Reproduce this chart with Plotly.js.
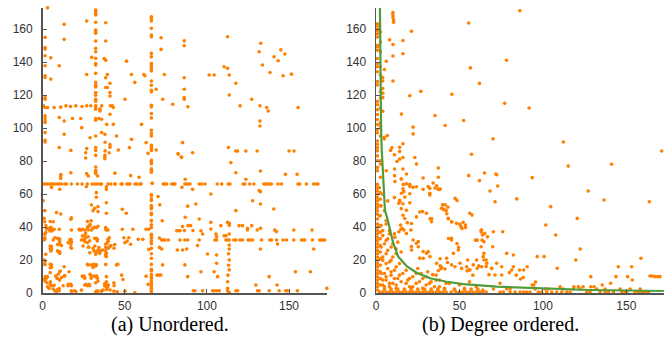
<!DOCTYPE html>
<html><head><meta charset="utf-8">
<script src="https://cdn.plot.ly/plotly-3.0.1.min.js"></script>
<style>html,body{margin:0;padding:0;background:#fff}#chart{width:664px;height:341px}</style>
</head><body><div id="chart"></div>
<script>
// ---------- tick labels & captions ----------
const xTicks = [0, 50, 100, 150];
const yTicks = [0, 20, 40, 60, 80, 100, 120, 140, 160];
const captions = ["(a) Unordered.", "(b) Degree ordered."];

// ---------- (a) unordered adjacency matrix: entries [col,row]; matrix is symmetric, each entry also drawn transposed ----------
const leftFar = [
[82.6,84.4],[84.6,82.4],[91.3,85.2],[117.6,86.2],[118.7,86.2],[123.7,86.2],[130.6,86.2],[150,86.2],[153,86.2],
[114.6,79.2],[117.6,73.1],[132.6,74.1],[123.7,69.1],[147.8,72.1],[154.9,72.1],[86.8,69.1],
[84.8,64.2],[91.3,63],[102.4,60.2],[131.8,62.2],[132.6,61.6],[127.8,56.1],[132.6,54.1],[93.3,54.1],[117.6,50.1],[140.7,51.1],[88.3,52.8],
[72.8,44],[95.3,45],[102.4,43],[86.8,46.1],[112.6,43],[108.5,41],[113.6,42.4],[113.6,41.2],
[85.2,40.5],[86.3,38],[88.5,41],[90.1,41],[91.5,38],[81.6,37.9],[82.6,37.9],[83.6,37.9],[96.4,37.9],[97.4,35.9],[102.4,39],[105.5,35.9],[110.5,34.9],[111.6,34.9],[113.6,35.9],
[119.6,41],[121.7,41],[127.3,41],[124.7,38.4],[124.7,39.4],[130.6,38.4],[132.6,39.4],[141.3,38.4],[142.3,37.4],[152.9,38.4],[164,38.4],
[72.5,26.8],[82,26.2],[85.2,26.2],[87.7,26.8],[94.3,28.9],[105.9,34.3],[113.6,29.3],[113.6,26.8],[132.6,26.8],[143,29.9],[165,26.8],
[73,17.2],[72,11.1],[86.6,17.2],[88.3,10.1],[100.4,23.8],[105.9,23.2],[105.9,18.2],[104.4,13.1],[106.5,10.1],[96.4,13.1],
[113.6,20.2],[113.6,14.2],[112.6,7],[112.6,3],[113.6,0.5],[113.2,24],[113.2,17],[112.8,11],
[137.9,10.1],[142.7,5],[153.9,13.1],[163,13.1],[129.8,5],[173,3]
];
const leftRow66Y = 66.2;
const leftRow66X = [73.4,74.5,75.5,78.5,79.5,80.6,86.6,87.7,88.6,89.7,95.3,96.8,98.8,106.3,109,113,114,122.1,123.1,126.1,128.6,134.7,135.9,137.3,138.3,139.3,143.3,145.4,155.5,156.5,160.6,165,166.6,167.6,
  44.1,47.7,48.5,51.2,52.2,53.2,56.2,57.3,59.3,59.9,
  0.3,1.7,2.9,4.4,5.3,6.4,7.4,9,9.8,11.4,13.5,14.5,17.5,21.2,24,27.2,30.1,31.7,33.3,34.8,35.8,39.8,41.5,43.9];
const leftRow32Y = 32.3;
const leftRow32X = [72.5,73.4,74.5,76.5,83.6,86.6,88.3,95.3,104.9,105.9,111.6,112.6,113.6,116.4,117.6,120.1,121.7,125.1,126.1,127.8,133.3,138.3,139.3,142.4,146.4,148.5,152.9,157.6,158.6,159.6,164.3,168.7,169.7,170.6,171.7];
const leftRow1Y = 1.5;
const leftRow1X = [91.7,92.7,97.4,103.5,104.4,105.9,107.5,112.6,117.6,118.7,130.8,131.8,137.9,144,148,149,155.1];
const leftUpper = [
[88.4,113.1],[112.6,155.5],[132.8,151.5],[131.8,146.4],[145,147.5],[140.9,143.4],[133.8,138.4],[110.5,137.3],[112.6,136.4],
[101.4,132.3],[104.4,132.3],[113.6,132.3],[117.6,127.3],[113.6,120.2]
];
const leftMid = [
[11,71.1],[11,69.7],[27.8,71.1],[33.5,71.1],[53.6,71.3],[58.7,70.3],[48.5,50.9],[66.7,66.7],
[5.4,64.2],[10.4,63],[26.6,64.6],[38.8,64.6],[38.8,63],[32.7,61],[32.7,58.2],[0.3,56.1],[38.8,54.9],[29.7,53.5],[31.7,51.5],[33.7,52.5],
[30.7,50.1],[33.7,49.5],[1.3,50.1],[8.4,48.9],[11,48.1],[38.8,48.5]
];
const leftNear = [
[0.9,45.4],[1.3,43.4],[6.4,43.4],[17.5,45.8],[2.3,39],[3.5,39],[5,39],[5.8,37.8],[4.4,37.8],[0.5,32.3],[6.4,32.3],[10.4,32.9],[10.4,31.3],
[5.4,28.3],[5.4,26.6],[5,25.6],[10.4,25.2],[10.4,24.2],[11.5,28.9],[16.5,32.3],[17.5,31.3],[17.5,27.3],[17.5,38.4],[22.6,38.4],[23.6,38.4],
[25.7,38.4],[27.7,38.4],[29.7,38.4],[27.7,40.4],[28.7,41],[30.7,39.4],[32.7,39.8],[25.7,35.3],[27.7,34.3],[23.6,32.3],[25.7,31.3],[28.7,31.8],
[24.6,28.7],[28,27.9],[30.7,27.3],[32.7,33.3],[33.3,31.7],[32.7,25.2],[33.7,26.2],[38.8,38.4],[39.8,38.4],[40.6,33.7],[41.6,28.9],[39.8,27.3],
[38.8,24.2],[38.8,22.2],[40,31.6],[36.5,26.2],[34.7,24.2],[43.5,27.3],[43.9,29.5],[44.9,17.2],[1.1,20.2],[1.5,19.4],[1.1,17.6],[5.4,17.2],
[5.4,15.6],[13.1,16.1],[10.4,13.1],[10.4,8],[11.5,9.5],[8.9,9],[13.5,10.7],[1.7,10.1],[2.9,10.1],[2.3,9.1],[4.8,7],[5.4,4.6],[3.9,3],[6.4,2.6],
[7.4,1.5],[8.4,1],[9.4,1.5],[12.5,4.6],[15.5,4.6],[17.5,4.6],[17.5,1.5],[23.6,1.9],[27.7,17.2],[29.7,17.2],[30.7,15.6],[32.7,17.2],[24.6,10.1],
[25.7,9.1],[29.5,10.7],[29.5,9.1],[32.7,10.1],[33.3,9.1],[33.7,7.4],[38.8,10.1],[38.8,7],[40,5],[39.4,3.6],[41.1,2],[27.2,4.6],[28.7,4.6],
[32.7,1.3],[33.7,1.3],[35.8,1.3],[43.5,4.6],[36.8,1.9]
];

// ---------- (b) degree ordered adjacency matrix (symmetric) ----------
const rightFar = [
[171.2,86.2],[115.2,77.1],[141.2,78.2],[93.6,70.1],[72.9,65],[68.3,62],[71.3,55.5],[127.2,62],[136.6,56.5],[163.8,55.5],[84.3,57.2],
[104.7,52.5],[120.6,45.4],[101.7,41.4],[75.9,37.3],[107.7,35.3],[69.9,28.2],[122.4,26.8],[119.7,20.2],[78.3,24.2],[82.3,23.2],[96.6,22.2],
[100.7,22.2],[158.8,21.2],[72.3,18.2],[75.3,16.1],[69.3,15.2],[79.9,12.5],[81.3,14.1],[82.3,16.1],[86,14.1],[88.5,14.1],[90.6,16.1],
[108.6,15.2],[71.3,11.1],[75.3,11.1],[84,11],[86.6,8.7],[88.2,9.5],[93.6,5],[94.6,5],[95.6,6.8],[74.3,6.1],[110.3,4],[118.6,4],
[121.2,4],[124.1,4],[128.7,10.1],[128.7,4],[130.7,4],[135.6,5],[140.6,6.1],[143.8,10.1],[145.2,16.1],[153.2,16.1],[150.8,10.1],[153.6,8.1],
[164.2,10.5],[165.6,10.5],[167.2,10.1],[168.8,10.1],[170.2,10.1],[91.7,112.3],[72.3,71.8],[70.3,37.3]
];
const rightRow1Y = 0.8;
const rightRow1X = [74.3,76.3,80.3,83.3,86.3,88.3,90.3,92.3,97.3,99.3,102.3,105.3,108.3,111.3,114.3,116.3,126.3,128.3,134.3,137.3,139.3,142.3,147.3,149.3,150.3,155.3,157.3,159.3,160.3,162.3,163.3];
const rightRow3Y = 2.6;
const rightRow3X = [70.3,78.3,80.3,95.3,101.3,103.3,112.3,118.3,122.3,132.3,137.3,146.3,152.3,158.3];
const rightNear = [
[11.3,67.7],[16.3,66],[20.2,66],[20.2,64.7],[31.2,64.7],[32.2,63.6],[34.2,66.8],[37.2,63],[38.2,63],[47.4,57.5],[24.2,64.6],[28.2,63],
[32.2,60.6],[32.2,59.6],[22.2,64.2],[15.2,60.6],[16.6,61.6],[11,58],[13.6,54.6],[14.2,55.6],[20.2,54.9],[27.8,49.5],[30.2,48.5],[33.2,43.4],
[39.2,51.5],[40.2,51],[41.2,50.5],[43.2,45.4],[45.2,43.4],[48.2,42.4],[50.2,42],[52.2,43],[56.2,48.5],[53.6,41.4],[53.6,39.8],[63.2,38.4],
[65.1,36.3],[63.8,35.3],[45.2,33.3],[45.2,32.3],
[0.8,2],[0.8,4],[0.8,6],[0.8,8],[0.8,10],[0.8,12],[0.8,14],[0.8,16],[0.8,18],[0.8,20],[0.8,22],[0.8,24],[0.8,26],[0.8,28],[0.8,30],[0.8,32],
[0.8,34],[0.8,36],[0.8,38],[0.8,40],[0.8,42],[0.8,45],[0.8,48],[0.8,50],[0.8,52],[0.8,54],[0.8,56],[0.8,58],[0.8,60],[0.8,62],[0.8,64],[0.8,66],
[2.5,5],[2.5,9],[2.5,13],[2.5,17],[2.5,21],[2.5,25],[2.5,29],[2.5,33],[2.5,37],[2.5,41],[2.5,47],[2.5,53],[2.5,57],[2.5,61],
[4,5],[6,8],[8,4],[10,6],[12,3],[5,12],[7,15],[9,11],[11,14],[13,9],[4,20],[6,24],[8,19],[10,22],[12,27],[14,18],[5,30],[7,33],[9,28],
[11,36],[13,31],[15,25],[4,38],[6,42],[8,36],[16,12],[18,6],[20,9],[22,4],[24,12],[26,7],[28,3],[30,10],[32,6],[35,4],[38,8],[41,3],
[44,6],[47,2],[50,5],[53,3],[56,7],[60,4],[64,2]
];
const rightNearBand = [
[18.7,42.8],[20.9,38.4],[16.7,38.4],[14.9,38.8],[11.3,33.9],[25.3,31.3],[25.3,28.2],[21.3,26.2],[30.3,24.2],[32.3,22.2],[28.3,21.2],
[36.3,18.2],[39.3,15.7],[37.3,13.7],[41.3,14.7],[46.3,24.2],[49.3,26.2],[42.3,21.2],[45.3,17.2],[47.3,16.1],[50.3,18.2],[51.3,15.1],
[54.3,16.1],[56.3,14.1],[58.3,17.2],[60.3,20.2],[63.3,16.1],[66.3,18.2],[69.3,15.1]
];
// fitted degree curve
const curveX = [2.3,2.4,2.6,3,3.4,4.3,5.3,6.7,8.3,10.3,13.3,18.3,24.3,32.3,42.3,52.3,72.3,98.3,128.2,172.5];
const curveY = [173,150,120,100,87,66.7,50.5,45.5,38.4,30.3,22.2,16.5,12.5,9.1,7,5.6,4,3,2,1.4];

// ---------- build ----------
function rowPairs(y, xs){ return xs.map(x => [x, y]); }
function sym(pairs){
  const xs = [], ys = [];
  pairs.forEach(p => { xs.push(p[0]); ys.push(p[1]); xs.push(p[1]); ys.push(p[0]); });
  return {x: xs, y: ys};
}
const leftAll = sym([].concat(leftFar, rowPairs(leftRow66Y, leftRow66X), rowPairs(leftRow32Y, leftRow32X),
  rowPairs(leftRow1Y, leftRow1X), leftUpper, leftMid, leftNear));
const rightAll = sym([].concat(rightFar, rowPairs(rightRow1Y, rightRow1X), rowPairs(rightRow3Y, rightRow3X), rightNear, rightNearBand));

const ORANGE = '#ff8000';
const mk = {color: ORANGE, size: 3.6};
const traces = [
  {type:'scatter', mode:'markers', x:leftAll.x, y:leftAll.y, marker:mk, xaxis:'x', yaxis:'y', cliponaxis:false, hoverinfo:'skip'},
  {type:'scatter', mode:'markers', x:rightAll.x, y:rightAll.y, marker:mk, xaxis:'x2', yaxis:'y2', cliponaxis:false, hoverinfo:'skip'},
  {type:'scatter', mode:'lines', x:curveX, y:curveY, line:{color:'#4f9d3a', width:2.2}, xaxis:'x2', yaxis:'y2', hoverinfo:'skip'}
];
const tickFont = {family:'"Liberation Sans", Arial, sans-serif', size:12, color:'#333'};
function ax(extra){
  return Object.assign({ticks:'inside', ticklen:4, tickwidth:1, tickcolor:'#555',
    showline:true, linecolor:'#555', linewidth:1.5, showgrid:false, zeroline:false,
    tickfont:tickFont, ticklabelstandoff:6, fixedrange:true}, extra);
}
const yDom = [0.1399, 0.977];
const capFont = {family:'"Liberation Serif", "Times New Roman", serif', size:20, color:'#000'};
const layout = {
  width:664, height:341, margin:{l:0, r:0, t:0, b:0}, showlegend:false,
  paper_bgcolor:'#fff', plot_bgcolor:'#fff',
  xaxis: ax({domain:[0.0642,0.4922], range:[0,173], tickvals:xTicks, anchor:'y', ticklabelstandoff:1}),
  yaxis: ax({domain:yDom, range:[0,173], tickvals:yTicks, anchor:'x'}),
  xaxis2: ax({domain:[0.5664,1], range:[0,172.6], tickvals:xTicks, anchor:'y2', ticklabelstandoff:1}),
  yaxis2: ax({domain:yDom, range:[0,173], tickvals:yTicks, anchor:'x2'}),
  annotations: [
    {text:captions[0], xref:'paper', yref:'paper', x:170/664, y:(341-324)/341, xanchor:'center', yanchor:'middle', showarrow:false, font:capFont},
    {text:captions[1], xref:'paper', yref:'paper', x:501/664, y:(341-324)/341, xanchor:'center', yanchor:'middle', showarrow:false, font:capFont}
  ]
};
Plotly.newPlot('chart', traces, layout, {staticPlot:true, displayModeBar:false});
</script></body></html>
